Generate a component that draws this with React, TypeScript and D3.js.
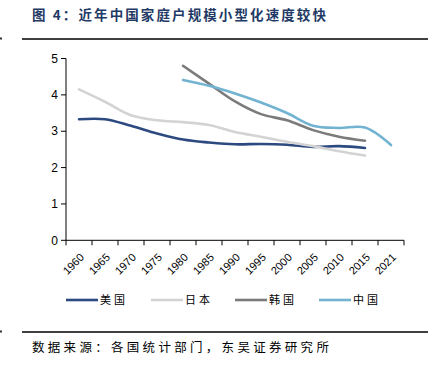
import React from "react";
import * as d3 from "d3";

const years = ["1960","1965","1970","1975","1980","1985","1990","1995","2000","2005","2010","2015","2021"];
const usValues: (number | null)[] = [3.33,3.33,3.15,2.94,2.77,2.69,2.64,2.65,2.63,2.57,2.59,2.54,null];
const japanValues: (number | null)[] = [4.15,3.81,3.44,3.3,3.25,3.17,2.98,2.85,2.71,2.59,2.45,2.33,null];
const koreaValues: (number | null)[] = [null,null,null,null,4.8,4.31,3.82,3.47,3.3,3.03,2.85,2.74,null];
const chinaValues: (number | null)[] = [null,null,null,null,4.41,4.25,4.04,3.79,3.5,3.15,3.09,3.1,2.62];
const seriesNames = ["美国","日本","韩国","中国"];
const seriesColors = ["#2d4a80","#d3d3d3","#7b7b7b","#72b3d2"];
const yTicks = [0,1,2,3,4,5];

export default function App() {
  const W = 433, H = 367;
  const left = 66, right = 404, top = 58.5, bottom = 240.3;
  const x = d3.scaleBand<string>().domain(years).range([left, right]);
  const y = d3.scaleLinear().domain([0, 5]).range([bottom, top]);
  const all = [usValues, japanValues, koreaValues, chinaValues];
  const line = d3.line<{ yr: string; v: number | null }>()
    .defined(d => d.v != null)
    .x(d => (x(d.yr) as number) + x.bandwidth() / 2)
    .y(d => y(d.v as number))
    .curve(d3.curveCatmullRom.alpha(0.5));
  const legendX = [66, 151, 235, 319];
  const font = "'Liberation Sans', Arial, sans-serif";
  const cjk = "'Noto Sans CJK SC', sans-serif";
  return (
    <svg width={W} height={H} style={{ position: "absolute", left: 0, top: 0, background: "#fff" }}>
      <text x={32} y={20} fontFamily={cjk} fontSize={13.5} fontWeight="bold" fill="#1f3a66" letterSpacing={2.1}>图 4：近年中国家庭户规模小型化速度较快</text>
      <line x1={22} x2={428} y1={39} y2={39} stroke="#000" strokeWidth={1.3} />
      <rect x={0} y={37.5} width={2} height={2} fill="#333" />
      {/* y axis */}
      <line x1={left} x2={left} y1={top} y2={bottom} stroke="#000" strokeWidth={1} />
      {yTicks.map(t => (
        <g key={t}>
          <line x1={left - 5} x2={left} y1={y(t)} y2={y(t)} stroke="#000" />
          <text x={left - 8} y={y(t)} dy="0.35em" textAnchor="end" fontFamily={font} fontSize={12} fill="#000">{t}</text>
        </g>
      ))}
      {/* x axis */}
      <line x1={left} x2={right} y1={bottom} y2={bottom} stroke="#000" strokeWidth={1} />
      {years.map((yr, i) => (
        <line key={"t" + i} x1={x(yr) as number} x2={x(yr) as number} y1={bottom} y2={bottom + 5} stroke="#000" />
      ))}
      <line x1={right} x2={right} y1={bottom} y2={bottom + 5} stroke="#000" />
      {years.map(yr => {
        const cx = (x(yr) as number) + x.bandwidth() / 2 + 3;
        const cy = bottom + 15;
        return (
          <text key={yr} x={cx} y={cy} transform={`rotate(-45 ${cx} ${cy})`} textAnchor="end" dy="0.35em"
            fontFamily={font} fontSize={11} fill="#000">{yr}</text>
        );
      })}
      {/* lines */}
      {all.map((vals, si) => (
        <path key={si} d={line(years.map((yr, i) => ({ yr, v: vals[i] }))) || ""} fill="none"
          stroke={seriesColors[si]} strokeWidth={2.6} strokeLinecap="round" />
      ))}
      {/* legend */}
      {seriesNames.map((n, i) => (
        <g key={n}>
          <line x1={legendX[i]} x2={legendX[i] + 32} y1={300} y2={300} stroke={seriesColors[i]} strokeWidth={2.6} />
          <text x={legendX[i] + 34} y={300} dy="0.35em" fontFamily={cjk} fontSize={11} fill="#000" letterSpacing={3}>{n}</text>
        </g>
      ))}
      <line x1={22} x2={428} y1={332} y2={332} stroke="#000" strokeWidth={1.3} />
      <rect x={0} y={330.5} width={2} height={2} fill="#333" />
      <text x={32} y={352} fontFamily={cjk} fontSize={12.5} fill="#000" letterSpacing={3.3}>数据来源：各国统计部门，东吴证券研究所</text>
    </svg>
  );
}
